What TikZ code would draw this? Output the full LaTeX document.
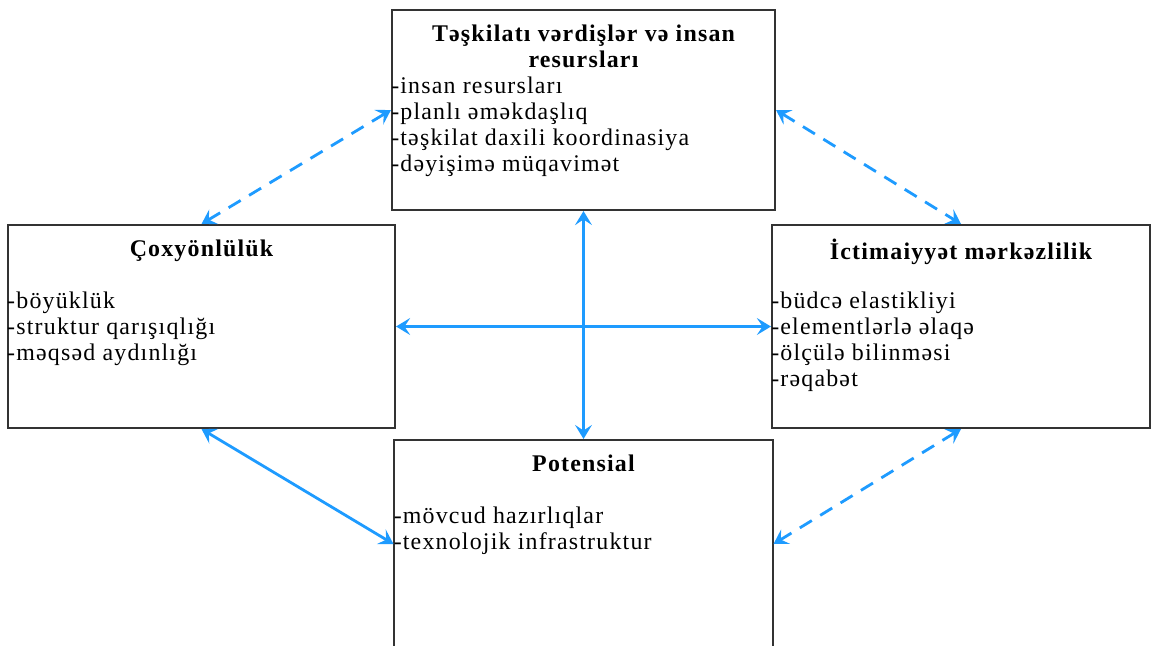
\documentclass[tikz,border=0pt]{standalone}
\usepackage{fontspec}
\setmainfont{Liberation Serif}[LetterSpace=5]
\usetikzlibrary{positioning,arrows.meta}
\definecolor{linkBlue}{HTML}{1E9BFF}

\begin{document}
\begin{tikzpicture}[x=0.025cm, y=-0.025cm,
    box/.style={draw=black!80, line width=1.4pt, inner sep=0pt},
    boxTitle/.style={font=\bfseries\fontsize{17}{19}\selectfont, align=center, inner sep=0pt},
    boxItems/.style={font=\fontsize{17}{18.5}\selectfont, align=left, inner sep=0pt},
    link/.style={linkBlue, line width=2pt, {Stealth[length=10pt,width=12pt,inset=4pt]}-{Stealth[length=10pt,width=12pt,inset=4pt]}},
    dashlink/.style={link, dash pattern=on 10pt off 7pt}]
    \useasboundingbox (0,0) rectangle (1155,645);
    \node[box, minimum width=9.575cm, minimum height=5cm] (skills) at (583.5,110) {};
    \node[boxTitle, below=0.38cm of skills.north] (skillsTitle) {Təşkilatı vərdişlər və insan\\resursları};
    \node[boxItems, below right=1.7cm and 0cm of skills.north west] (skillsItems) {-insan resursları\\-planlı əməkdaşlıq\\-təşkilat daxili koordinasiya\\-dəyişimə müqavimət};
    \node[box, minimum width=9.675cm, minimum height=5.075cm] (diversity) at (201.5,326.5) {};
    \node[boxTitle, below=0.38cm of diversity.north] (diversityTitle) {Çoxyönlülük};
    \node[boxItems, below right=1.7cm and 0cm of diversity.north west] (diversityItems) {-böyüklük\\-struktur qarışıqlığı\\-məqsəd aydınlığı};
    \node[box, minimum width=9.45cm, minimum height=5.075cm] (public) at (961,326.5) {};
    \node[boxTitle, below=0.38cm of public.north] (publicTitle) {İctimaiyyət mərkəzlilik};
    \node[boxItems, below right=1.7cm and 0cm of public.north west] (publicItems) {-büdcə elastikliyi\\-elementlərlə əlaqə\\-ölçülə bilinməsi\\-rəqabət};
    \node[box, minimum width=9.45cm, minimum height=5.2cm] (potential) at (583.5,544) {};
    \node[boxTitle, below=0.38cm of potential.north] (potentialTitle) {Potensial};
    \node[boxItems, below right=1.7cm and 0cm of potential.north west] (potentialItems) {-mövcud hazırlıqlar\\-texnolojik infrastruktur};
    \draw[dashlink] (diversity.north) -- (skills.west);
    \draw[dashlink] (skills.east) -- (public.north);
    \draw[link] (skills.south) -- (potential.north);
    \draw[link] (diversity.east) -- (public.west);
    \draw[link] (diversity.south) -- (potential.west);
    \draw[dashlink] (public.south) -- (potential.east);
\end{tikzpicture}
\end{document}
